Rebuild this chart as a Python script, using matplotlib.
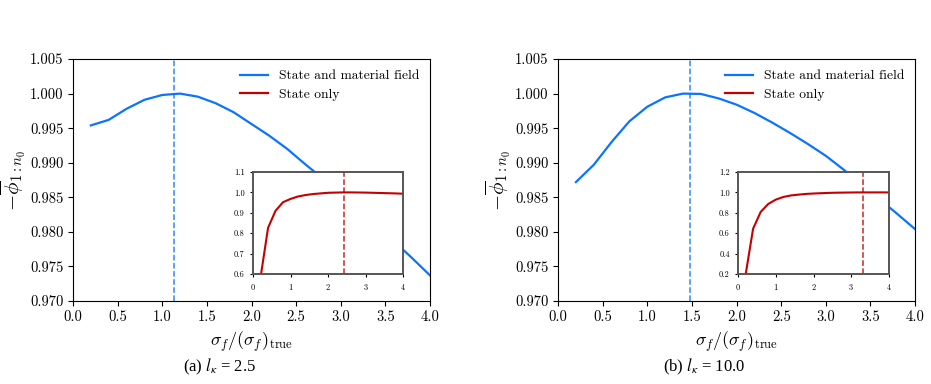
import numpy as np
import matplotlib
matplotlib.use("Agg")
import matplotlib.pyplot as plt

plt.rcParams['font.family'] = 'cmr10'
plt.rcParams['mathtext.fontset'] = 'cm'
plt.rcParams['axes.formatter.use_mathtext'] = True

# sigma_f / (sigma_f)_true grid
sigma = [0.2, 0.4, 0.6, 0.8, 1.0, 1.2, 1.4, 1.6, 1.8, 2.0,
         2.2, 2.4, 2.6, 2.8, 3.0, 3.2, 3.4, 3.6, 3.8, 4.0]

# (a) l_kappa = 2.5
joint_a = [0.9954, 0.9962, 0.9978, 0.9991, 0.9998, 1.0000, 0.99955, 0.9986, 0.9973, 0.9956,
           0.9939, 0.9920, 0.9898, 0.9877, 0.9855, 0.9833, 0.9810, 0.9786, 0.9762, 0.9737]
state_a = [0.583, 0.826, 0.910, 0.952, 0.968, 0.980, 0.987, 0.992, 0.995, 0.998,
           0.999, 1.000, 1.000, 0.9995, 0.999, 0.998, 0.997, 0.996, 0.995, 0.9935]
best_joint_a = 1.13
best_state_a = 2.42

# (b) l_kappa = 10.0
joint_b = [0.9872, 0.9897, 0.9930, 0.9960, 0.9981, 0.99945, 1.0000, 0.99995, 0.9993, 0.9984,
           0.9972, 0.9958, 0.9943, 0.9927, 0.9910, 0.9890, 0.9869, 0.98475, 0.9826, 0.9804]
state_b = [0.19, 0.644, 0.808, 0.886, 0.929, 0.955, 0.970, 0.978, 0.985, 0.989,
           0.992, 0.995, 0.997, 0.998, 0.999, 1.000, 1.000, 1.000, 1.000, 0.9995]
best_joint_b = 1.48
best_state_b = 3.30

main_yticks = [0.970, 0.975, 0.980, 0.985, 0.990, 0.995, 1.000, 1.005]
main_xticks = [0.0, 0.5, 1.0, 1.5, 2.0, 2.5, 3.0, 3.5, 4.0]

blue = '#0a74ff'
red = '#c40000'

fig = plt.figure(figsize=(9.31, 3.84), dpi=100)

panels = [
    dict(pos=[0.0784, 0.2161, 0.3835, 0.6302], ins=[0.2718, 0.2865, 0.1611, 0.2656],
         joint=joint_a, state=state_a, bj=best_joint_a, bs=best_state_a,
         iylim=(0.6, 1.1), iyticks=[0.6, 0.7, 0.8, 0.9, 1.0, 1.1],
         cap="(a) $l_\\kappa$ = 2.5", capx=0.236),
    dict(pos=[0.5994, 0.2161, 0.3835, 0.6302], ins=[0.7927, 0.2865, 0.1622, 0.2656],
         joint=joint_b, state=state_b, bj=best_joint_b, bs=best_state_b,
         iylim=(0.2, 1.2), iyticks=[0.2, 0.4, 0.6, 0.8, 1.0, 1.2],
         cap="(b) $l_\\kappa$ = 10.0", capx=0.756),
]

for p in panels:
    ax = fig.add_axes(p['pos'])
    ax.plot(sigma, p['joint'], color=blue, lw=1.6, label='State and material field')
    ax.plot([], [], color=red, lw=1.6, label='State only')
    ax.axvline(p['bj'], color=blue, ls='--', lw=1.1, alpha=0.85)
    ax.set_xlim(0, 4)
    ax.set_ylim(0.970, 1.005)
    ax.set_xticks(main_xticks)
    ax.set_yticks(main_yticks)
    ax.set_xticklabels(['%.1f' % t for t in main_xticks])
    ax.set_yticklabels(['%.3f' % t for t in main_yticks])
    ax.tick_params(labelsize=10.5, length=3.5)
    ax.set_xlabel(r'$\sigma_f/(\sigma_f)_{\mathrm{true}}$', fontsize=13, labelpad=4)
    ax.set_ylabel(r'$-\overline{\phi}_{1:n_0}$', fontsize=15, labelpad=1)
    ax.legend(loc='upper right', frameon=False, fontsize=9.7,
              handlelength=2.1, handletextpad=0.8, borderaxespad=0.4, labelspacing=0.45)

    ins = fig.add_axes(p['ins'])
    ins.plot(sigma, p['state'], color=red, lw=1.5)
    ins.axvline(p['bs'], color=red, ls='--', lw=1.1, alpha=0.85)
    ins.set_xlim(0, 4)
    ins.set_ylim(*p['iylim'])
    ins.set_xticks([0, 1, 2, 3, 4])
    ins.set_yticks(p['iyticks'])
    ins.set_yticklabels(['%.1f' % t for t in p['iyticks']])
    ins.tick_params(labelsize=6, length=2.5, width=0.8)
    for s in ins.spines.values():
        s.set_color('#555555')
        s.set_linewidth(1.4)

    fig.text(p['capx'], 0.044, p['cap'], ha='center', va='center', fontsize=12,
             family='Liberation Serif', math_fontfamily='stix')

fig.savefig('out.png', dpi=100)
